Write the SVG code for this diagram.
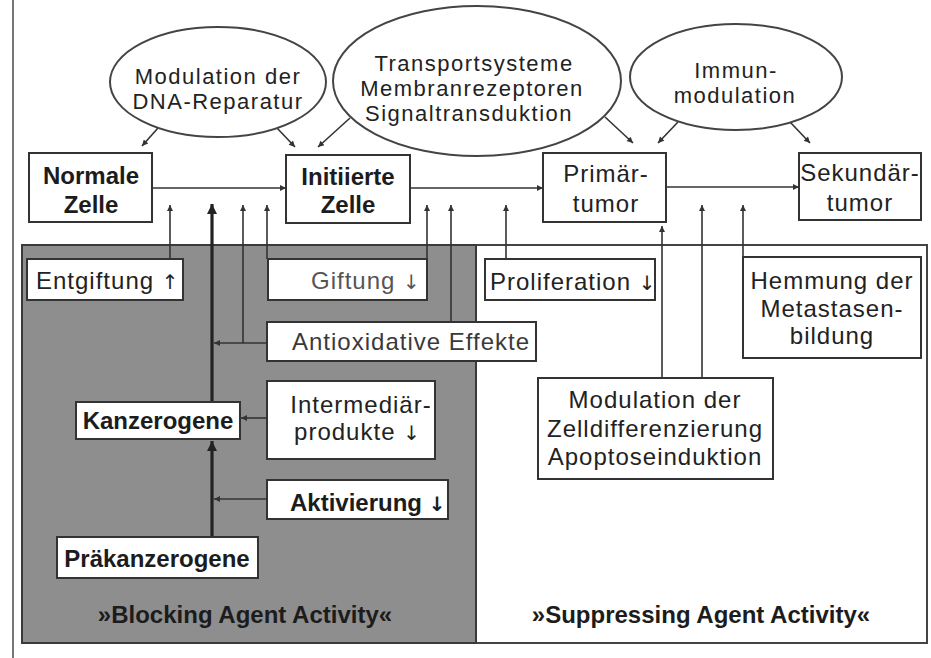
<svg xmlns="http://www.w3.org/2000/svg" width="931" height="658" viewBox="0 0 931 658">
<defs>
<style>
.r{font-family:"Liberation Sans",Arial,sans-serif;font-size:24px;letter-spacing:1px;fill:#222}
.e{font-family:"Liberation Sans",Arial,sans-serif;font-size:22px;letter-spacing:1.5px;fill:#222}
.b{font-family:"Liberation Sans",Arial,sans-serif;font-size:24px;font-weight:bold;fill:#1c1c1c}
.ar{font-family:"DejaVu Sans",sans-serif;font-size:20px;letter-spacing:0}
.c{text-anchor:middle}
.box{fill:#fff;stroke:#333;stroke-width:2}
.ell{fill:#fff;stroke:#444;stroke-width:2}
.ln{fill:none;stroke:#333;stroke-width:1.6}
.th{fill:none;stroke:#222;stroke-width:3.2}
</style>
<marker id="ah" viewBox="0 0 10 10" refX="10" refY="5" markerWidth="10" markerHeight="6" markerUnits="userSpaceOnUse" orient="auto"><path d="M0,0L10,5L0,10z" fill="#333"/></marker>
<marker id="ahb" viewBox="0 0 10 10" refX="10" refY="5" markerWidth="14" markerHeight="10" markerUnits="userSpaceOnUse" orient="auto"><path d="M0,0L10,5L0,10z" fill="#222"/></marker>
</defs>
<rect x="0" y="0" width="931" height="658" fill="#fff"/>
<g id="panel">
<line x1="13" y1="0" x2="13" y2="658" stroke="#555" stroke-width="1.6"/>
<rect x="22" y="245" width="905" height="398" fill="#fff" stroke="#444" stroke-width="2"/>
<rect x="22" y="245" width="454" height="398" fill="#8e8e8e" stroke="#3a3a3a" stroke-width="2"/>
<text class="b c" x="245" y="623" fill="#2a2a2a">»Blocking Agent Activity«</text>
<text class="b c" x="701" y="623">»Suppressing Agent Activity«</text>
</g>
<g id="connectors">
<path class="ln" d="M158,128L142,146" marker-end="url(#ah)"/>
<path class="ln" d="M277,128L295,147" marker-end="url(#ah)"/>
<path class="ln" d="M350,118L318,147" marker-end="url(#ah)"/>
<path class="ln" d="M605,117L633,143" marker-end="url(#ah)"/>
<path class="ln" d="M678,122L658,143" marker-end="url(#ah)"/>
<path class="ln" d="M790,122L810,143" marker-end="url(#ah)"/>
<path class="ln" d="M152,188L286,188" marker-end="url(#ah)"/>
<path class="ln" d="M410,188L543,188" marker-end="url(#ah)"/>
<path class="ln" d="M666,187L799,187" marker-end="url(#ah)"/>
<path class="ln" d="M170,259L170,205" marker-end="url(#ah)"/>
<path class="ln" d="M243,343L243,205" marker-end="url(#ah)"/>
<path class="ln" d="M267,259L267,205" marker-end="url(#ah)"/>
<path class="ln" d="M427,259L427,205" marker-end="url(#ah)"/>
<path class="ln" d="M451,322L451,205" marker-end="url(#ah)"/>
<path class="ln" d="M506,259L506,205" marker-end="url(#ah)"/>
<path class="ln" d="M662,378L662,226" marker-end="url(#ah)"/>
<path class="ln" d="M702,378L702,205" marker-end="url(#ah)"/>
<path class="ln" d="M743,257L743,205" marker-end="url(#ah)"/>
<path class="ln" d="M267,343L214,343" marker-end="url(#ah)"/>
<path class="ln" d="M267,418L241,418" marker-end="url(#ah)"/>
<path class="ln" d="M267,499L214,499" marker-end="url(#ah)"/>
<path class="th" d="M212,537L212,441" marker-end="url(#ahb)"/>
<path class="th" d="M212,402L212,204" marker-end="url(#ahb)"/>
</g>
<g id="dna">
<ellipse class="ell" cx="218" cy="82" rx="108" ry="55"/>
<text class="e c" x="218" y="84">Modulation der</text>
<text class="e c" x="218" y="109">DNA-Reparatur</text>
</g>
<g id="transport">
<ellipse class="ell" cx="477" cy="81" rx="144" ry="75"/>
<text class="e c" x="474" y="71">Transportsysteme</text>
<text class="e c" x="472" y="96">Membranrezeptoren</text>
<text class="e c" x="469" y="121">Signaltransduktion</text>
</g>
<g id="immun">
<ellipse class="ell" cx="736" cy="77" rx="106" ry="53"/>
<text class="e c" x="736" y="78">Immun-</text>
<text class="e c" x="735" y="103">modulation</text>
</g>
<g id="normale">
<rect class="box" x="29" y="153" width="123" height="69"/>
<text class="b c" x="91" y="184">Normale</text>
<text class="b c" x="91" y="213">Zelle</text>
</g>
<g id="initiierte">
<rect class="box" x="286" y="155" width="124" height="68"/>
<text class="b c" x="348" y="185">Initiierte</text>
<text class="b c" x="348" y="213">Zelle</text>
</g>
<g id="primaer">
<rect class="box" x="543" y="153" width="123" height="69"/>
<text class="r c" x="606" y="182">Primär-</text>
<text class="r c" x="606" y="212">tumor</text>
</g>
<g id="sekundaer">
<rect class="box" x="799" y="153" width="122" height="67"/>
<text class="r c" x="860" y="181">Sekundär-</text>
<text class="r c" x="860" y="211">tumor</text>
</g>
<g id="entgiftung">
<rect class="box" x="27" y="259" width="156" height="41"/>
<text class="r" x="36" y="289">Entgiftung <tspan class="ar">↑</tspan></text>
</g>
<g id="giftung">
<rect class="box" x="268" y="259" width="159" height="41"/>
<text class="r" x="311" y="289" style="fill:#555">Giftung <tspan class="ar">↓</tspan></text>
</g>
<g id="antioxidativ">
<rect class="box" x="267" y="322" width="269" height="39"/>
<text class="r" x="292" y="350" style="fill:#3a3a3a">Antioxidative Effekte</text>
</g>
<g id="intermediaer">
<rect class="box" x="267" y="381" width="168" height="78"/>
<text class="r c" x="361" y="413">Intermediär-</text>
<text class="r c" x="357" y="440">produkte <tspan class="ar">↓</tspan></text>
</g>
<g id="kanzerogene">
<rect class="box" x="76" y="402" width="164" height="37"/>
<text class="b c" x="158" y="429">Kanzerogene</text>
</g>
<g id="aktivierung">
<rect class="box" x="267" y="480" width="181" height="39"/>
<text class="b" x="290" y="511">Aktivierung <tspan class="ar">↓</tspan></text>
</g>
<g id="praekanzerogene">
<rect class="box" x="57" y="537" width="201" height="41"/>
<text class="b c" x="157" y="567">Präkanzerogene</text>
</g>
<g id="proliferation">
<rect class="box" x="485" y="259" width="170" height="41"/>
<text class="r" x="490" y="290">Proliferation <tspan class="ar">↓</tspan></text>
</g>
<g id="hemmung">
<rect class="box" x="743" y="257" width="178" height="101"/>
<text class="r c" x="832" y="289">Hemmung der</text>
<text class="r c" x="832" y="317">Metastasen-</text>
<text class="r c" x="832" y="344">bildung</text>
</g>
<g id="modulation">
<rect class="box" x="538" y="378" width="235" height="101"/>
<text class="r c" x="655" y="408">Modulation der</text>
<text class="r c" x="655" y="437">Zelldifferenzierung</text>
<text class="r c" x="655" y="465">Apoptoseinduktion</text>
</g>
</svg>
